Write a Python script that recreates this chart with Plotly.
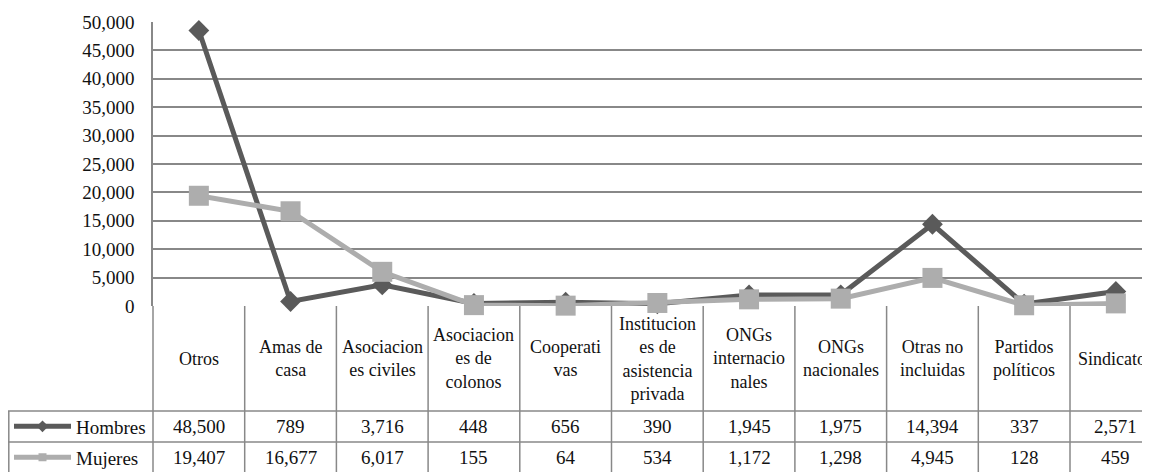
import plotly.graph_objects as go

# ---- data ----
categories = ["Otros", "Amas de casa", "Asociaciones civiles", "Asociaciones de colonos",
              "Cooperativas", "Instituciones de asistencia privada", "ONGs internacionales",
              "ONGs nacionales", "Otras no incluidas", "Partidos políticos", "Sindicatos"]
# header text wrapped as in the data table
category_labels = ["Otros", "Amas de<br>casa", "Asociacion<br>es civiles",
                   "Asociacion<br>es de<br>colonos", "Cooperati<br>vas",
                   "Institucion<br>es de<br>asistencia<br>privada", "ONGs<br>internacio<br>nales",
                   "ONGs<br>nacionales", "Otras no<br>incluidas", "Partidos<br>políticos",
                   "Sindicatos"]
hombres = [48500, 789, 3716, 448, 656, 390, 1945, 1975, 14394, 337, 2571]
mujeres = [19407, 16677, 6017, 155, 64, 534, 1172, 1298, 4945, 128, 459]
y_ticks = [0, 5000, 10000, 15000, 20000, 25000, 30000, 35000, 40000, 45000, 50000]

HOMBRES_C = "#5a5a5a"
MUJERES_C = "#adadad"
GRID_C = "#888888"
FONT = "'Liberation Serif', 'Times New Roman', 'DejaVu Serif', serif"

# ---- figure geometry (px, figure sits 8px into the page) ----
W, H = 1142, 464
L, T, B = 145, 14, 166
PLOT_BOTTOM = H - B          # 298
PLOT_H = PLOT_BOTTOM - T     # 284
COL_W = 91.7                 # width of one category column
ROW1_TOP, ROW2_TOP = 403, 434


def py(px):
    """pixel row -> paper y"""
    return (PLOT_BOTTOM - px) / PLOT_H


def pxx(px):
    """pixel column -> paper x"""
    return (px - L) / (W - L)


x_idx = list(range(len(categories)))

fig = go.Figure()
fig.add_scatter(
    x=x_idx, y=hombres, name="Hombres", mode="lines+markers",
    line=dict(color=HOMBRES_C, width=5),
    marker=dict(symbol="diamond", size=16, color=HOMBRES_C),
    cliponaxis=False, showlegend=False,
)
fig.add_scatter(
    x=x_idx, y=mujeres, name="Mujeres", mode="lines+markers",
    line=dict(color=MUJERES_C, width=5),
    marker=dict(symbol="square", size=20, color=MUJERES_C),
    cliponaxis=False, showlegend=False,
)

# legend keys that sit inside the data table
fig.add_scatter(x=[None], y=[None], name="Hombres", mode="lines+markers",
                line=dict(color=HOMBRES_C, width=5),
                marker=dict(symbol="diamond", size=9, color=HOMBRES_C), legend="legend")
fig.add_scatter(x=[None], y=[None], name="Mujeres", mode="lines+markers",
                line=dict(color=MUJERES_C, width=5),
                marker=dict(symbol="square", size=8, color=MUJERES_C), legend="legend2")

# ---- data table ----
line_style = dict(color=GRID_C, width=1.5)
for i in range(1, len(categories) + 1):
    fig.add_shape(type="line", xref="x", yref="paper", x0=i - 0.5, x1=i - 0.5,
                  y0=py(PLOT_BOTTOM), y1=py(H + 10), line=line_style)
fig.add_shape(type="line", xref="paper", yref="paper", x0=0, x1=0,
              y0=py(PLOT_BOTTOM), y1=py(H + 10), line=line_style)
fig.add_shape(type="line", xref="paper", yref="paper", x0=pxx(0.8), x1=pxx(0.8),
              y0=py(ROW1_TOP), y1=py(H + 10), line=line_style)
for row_top in (ROW1_TOP, ROW2_TOP):
    fig.add_shape(type="line", xref="paper", yref="paper", x0=pxx(0), x1=1.05,
                  y0=py(row_top), y1=py(row_top), line=line_style)

head_font = dict(family=FONT, size=18, color="#111111")
cell_font = dict(family=FONT, size=19, color="#111111")
for i, lab in enumerate(category_labels):
    fig.add_annotation(x=i, y=py((PLOT_BOTTOM + ROW1_TOP) / 2), xref="x", yref="paper",
                       text=lab, showarrow=False, font=head_font,
                       xanchor="center", yanchor="middle", align="center")
for i, (h, m) in enumerate(zip(hombres, mujeres)):
    fig.add_annotation(x=i, y=py((ROW1_TOP + ROW2_TOP) / 2), xref="x", yref="paper",
                       text=f"{h:,}", showarrow=False, font=cell_font,
                       xanchor="center", yanchor="middle")
    fig.add_annotation(x=i, y=py(ROW2_TOP + 15.5), xref="x", yref="paper",
                       text=f"{m:,}", showarrow=False, font=cell_font,
                       xanchor="center", yanchor="middle")

legend_common = dict(xanchor="left", yanchor="middle", itemwidth=57,
                     bgcolor="rgba(0,0,0,0)", borderwidth=0, font=cell_font,
                     itemclick=False, itemdoubleclick=False)

fig.update_layout(
    width=W, height=H,
    margin=dict(l=L, r=0, t=T, b=B, autoexpand=False),
    paper_bgcolor="white", plot_bgcolor="white",
    font=dict(family=FONT, size=19, color="#111111"),
    xaxis=dict(range=[-0.5, -0.5 + (W - L) / COL_W], showticklabels=False,
               showgrid=False, zeroline=False, showline=False, ticks=""),
    yaxis=dict(range=[0, 50000], tickvals=y_ticks, tickformat=",",
               showgrid=True, gridcolor=GRID_C, gridwidth=1.5,
               zeroline=False, showline=True, linecolor=GRID_C, linewidth=1.5,
               ticks="", ticklabelstandoff=13, tickfont=dict(family=FONT, size=19)),
    legend=dict(x=pxx(1), y=py((ROW1_TOP + ROW2_TOP) / 2), **legend_common),
    legend2=dict(x=pxx(1), y=py(ROW2_TOP + 15.5), **legend_common),
)

fig.write_html("out.html")
